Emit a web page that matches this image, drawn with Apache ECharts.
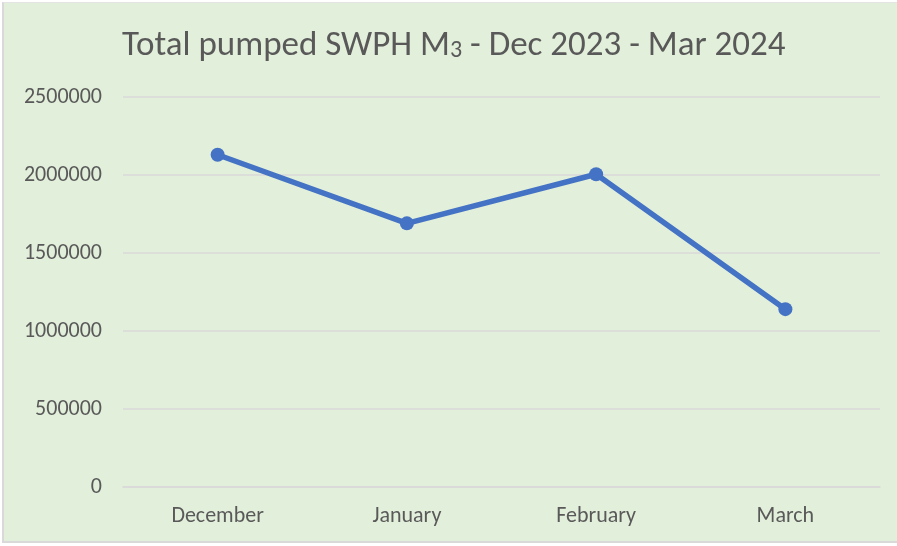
<!DOCTYPE html>
<html>
<head>
<meta charset="utf-8">
<script src="https://cdn.jsdelivr.net/npm/echarts@6/dist/echarts.min.js"></script>
<style>
html,body{margin:0;padding:0;background:#fff;}
#c{position:absolute;left:0;top:0;width:897px;height:546px;}
#frame{position:absolute;left:2px;top:2px;width:897px;height:541px;border-left:2px solid #d9d9d9;border-top:1px solid #e4e4e4;border-bottom:2px solid #d9d9d9;box-sizing:border-box;background:#E2EFDA;}
</style>
</head>
<body>
<div id="frame"></div>
<div id="c"></div>
<script>
const categories = ['December', 'January', 'February', 'March'];
const pumpedValues = [2130000, 1690000, 2005000, 1140000];
const yTicks = [0, 500000, 1000000, 1500000, 2000000, 2500000];

const chart = echarts.init(document.getElementById('c'), null, {renderer: 'canvas'});
const font = "Carlito, 'Liberation Sans Narrow', 'Open Sans', sans-serif";
chart.setOption({
  backgroundColor: 'transparent',
  title: {
    text: '{a|Total pumped SWPH M}{b|3}{a| - Dec 2023 - Mar 2024}',
    left: 122,
    top: 29,
    padding: 0,
    textStyle: {
      rich: {
        a: {fontSize: 35, color: '#595959', fontFamily: font, fontWeight: 'normal'},
        b: {fontSize: 24, color: '#595959', fontFamily: font, fontWeight: 'normal', padding: [8, 0, 0, 0]}
      }
    }
  },
  grid: {left: 123, right: 17, top: 97, bottom: 59},
  xAxis: {
    type: 'category',
    data: categories,
    boundaryGap: true,
    axisLine: {show: true, lineStyle: {color: '#d9d9d9', width: 1.5}},
    axisTick: {show: false},
    axisLabel: {color: '#595959', fontSize: 22, fontFamily: font, margin: 18}
  },
  yAxis: {
    type: 'value',
    min: yTicks[0],
    max: yTicks[yTicks.length - 1],
    interval: yTicks[1] - yTicks[0],
    axisLine: {show: false},
    axisTick: {show: false},
    splitLine: {lineStyle: {color: '#d9d9d9', width: 1.5}},
    axisLabel: {color: '#595959', fontSize: 22, fontFamily: font, margin: 21, formatter: v => String(v)}
  },
  series: [{
    type: 'line',
    data: pumpedValues,
    symbol: 'circle',
    symbolSize: 14,
    lineStyle: {color: '#4472C4', width: 5.5},
    itemStyle: {color: '#4472C4'},
    animation: false
  }]
});
</script>
</body>
</html>
